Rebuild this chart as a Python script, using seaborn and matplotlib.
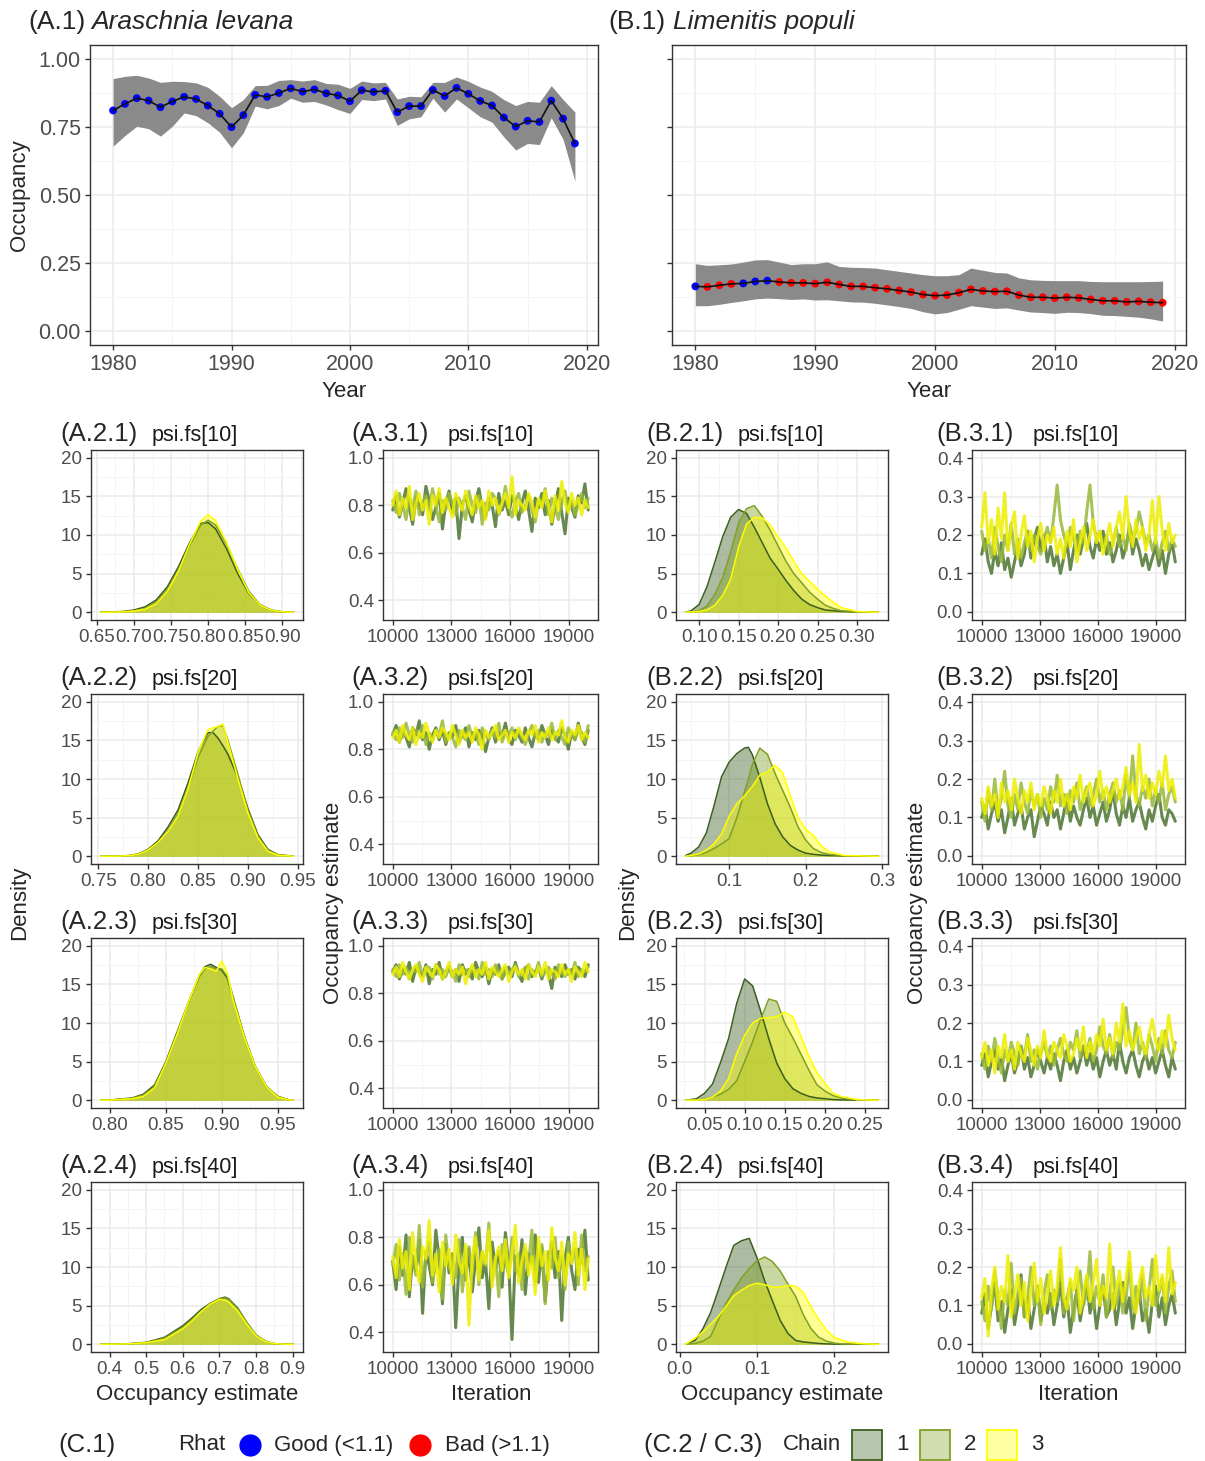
import numpy as np
import pandas as pd
import matplotlib
matplotlib.use("Agg")
import matplotlib.pyplot as plt
from matplotlib.lines import Line2D
from matplotlib.patches import Rectangle
from matplotlib.ticker import AutoMinorLocator, FixedLocator, FixedFormatter
import seaborn as sns

sns.set_theme(style="white")
plt.rcParams['font.family'] = ['Liberation Sans', 'DejaVu Sans']

# ---------------------------------------------------------------- data
years = list(range(1980, 2020))

occ_A_mean = [0.810, 0.834, 0.855, 0.846, 0.822, 0.843, 0.860, 0.852, 0.828, 0.798,
              0.749, 0.793, 0.867, 0.860, 0.874, 0.891, 0.879, 0.887, 0.873, 0.865,
              0.844, 0.884, 0.878, 0.882, 0.804, 0.826, 0.826, 0.885, 0.863, 0.893,
              0.871, 0.845, 0.828, 0.784, 0.751, 0.772, 0.768, 0.846, 0.780, 0.689]
occ_A_upper = [0.927, 0.935, 0.939, 0.929, 0.913, 0.917, 0.916, 0.911, 0.895, 0.862,
               0.820, 0.850, 0.901, 0.902, 0.920, 0.923, 0.918, 0.923, 0.909, 0.906,
               0.891, 0.918, 0.911, 0.913, 0.852, 0.862, 0.860, 0.913, 0.913, 0.933,
               0.917, 0.896, 0.880, 0.850, 0.828, 0.843, 0.840, 0.901, 0.850, 0.804]
occ_A_lower = [0.679, 0.718, 0.752, 0.743, 0.716, 0.752, 0.801, 0.791, 0.765, 0.730,
               0.673, 0.728, 0.826, 0.816, 0.828, 0.855, 0.840, 0.843, 0.830, 0.813,
               0.799, 0.850, 0.846, 0.852, 0.755, 0.779, 0.787, 0.855, 0.804, 0.852,
               0.820, 0.787, 0.767, 0.713, 0.665, 0.689, 0.685, 0.783, 0.704, 0.551]
rhat_A = ["Good"] * 40

occ_B_mean = [0.165, 0.163, 0.169, 0.174, 0.176, 0.183, 0.186, 0.181, 0.178, 0.178,
              0.175, 0.180, 0.172, 0.165, 0.165, 0.160, 0.156, 0.150, 0.144, 0.135,
              0.131, 0.133, 0.142, 0.154, 0.148, 0.146, 0.147, 0.133, 0.125, 0.125,
              0.122, 0.125, 0.123, 0.117, 0.112, 0.112, 0.108, 0.110, 0.107, 0.105]
occ_B_upper = [0.248, 0.242, 0.244, 0.247, 0.254, 0.262, 0.263, 0.254, 0.245, 0.248,
               0.248, 0.255, 0.238, 0.235, 0.234, 0.232, 0.226, 0.220, 0.214, 0.208,
               0.204, 0.204, 0.208, 0.232, 0.224, 0.216, 0.214, 0.196, 0.189, 0.187,
               0.186, 0.186, 0.186, 0.183, 0.182, 0.182, 0.182, 0.182, 0.183, 0.184]
occ_B_lower = [0.094, 0.094, 0.099, 0.106, 0.112, 0.119, 0.122, 0.120, 0.117, 0.119,
               0.115, 0.116, 0.112, 0.108, 0.107, 0.103, 0.097, 0.091, 0.084, 0.072,
               0.064, 0.069, 0.081, 0.094, 0.089, 0.084, 0.086, 0.078, 0.071, 0.069,
               0.066, 0.070, 0.069, 0.065, 0.059, 0.058, 0.055, 0.052, 0.046, 0.038]
rhat_B = ["Good", "Bad", "Bad", "Bad", "Good", "Good", "Good"] + ["Bad"] * 33

chains = ["1", "2", "3"]
parameters = ["psi.fs[10]", "psi.fs[20]", "psi.fs[30]", "psi.fs[40]"]

# posterior densities per chain (x grid, then density of chains 1, 2, 3)
dens_A1_x = [0.655, 0.67, 0.685, 0.70, 0.715, 0.73, 0.745, 0.76, 0.775, 0.79, 0.80,
             0.81, 0.825, 0.84, 0.855, 0.87, 0.885, 0.90, 0.915]
dens_A1_c1 = [0, 0.05, 0.1, 0.3, 0.7, 1.6, 3.3, 5.9, 9.0, 11.5, 11.6, 10.8, 8.2, 5.0, 2.4, 0.9, 0.25, 0.05, 0]
dens_A1_c2 = [0, 0.03, 0.08, 0.2, 0.5, 1.3, 2.9, 5.4, 8.6, 11.3, 11.9, 11.3, 8.8, 5.6, 2.7, 1.0, 0.3, 0.07, 0]
dens_A1_c3 = [0, 0.02, 0.05, 0.15, 0.4, 1.1, 2.7, 5.3, 8.8, 11.8, 12.6, 11.9, 9.0, 5.5, 2.5, 0.9, 0.25, 0.05, 0]

dens_A2_x = [0.7525, 0.77, 0.78, 0.79, 0.80, 0.81, 0.82, 0.83, 0.84, 0.85, 0.86, 0.865,
             0.87, 0.875, 0.88, 0.89, 0.90, 0.91, 0.92, 0.93, 0.9455]
dens_A2_c1 = [0, 0.03, 0.08, 0.3, 0.9, 2.0, 3.8, 6.0, 9.5, 13.5, 16.0, 16.0, 15.3, 14.3, 13.2, 10.2, 6.2, 2.8, 0.9, 0.2, 0]
dens_A2_c2 = [0, 0.03, 0.08, 0.25, 0.8, 1.8, 3.3, 5.5, 8.8, 12.8, 15.5, 16.2, 16.8, 16.9, 15.0, 10.6, 6.0, 2.6, 0.8, 0.2, 0]
dens_A2_c3 = [0, 0.02, 0.07, 0.25, 0.8, 1.8, 3.2, 5.2, 8.7, 13.4, 16.4, 16.6, 16.8, 17.1, 14.7, 10.0, 5.6, 2.4, 0.65, 0.13, 0]

dens_A3_x = [0.7917, 0.80, 0.82, 0.83, 0.84, 0.85, 0.86, 0.87, 0.88, 0.885, 0.89, 0.895,
             0.90, 0.905, 0.91, 0.92, 0.93, 0.94, 0.95, 0.96, 0.964]
dens_A3_c1 = [0, 0.03, 0.3, 0.8, 2.0, 5.0, 8.8, 12.6, 16.2, 17.3, 17.6, 17.2, 16.8, 15.8, 13.3, 8.3, 4.3, 1.7, 0.5, 0.05, 0]
dens_A3_c2 = [0, 0.03, 0.25, 0.7, 1.8, 4.8, 8.6, 12.6, 16.0, 17.0, 17.3, 17.0, 17.0, 16.0, 13.5, 8.4, 4.4, 1.8, 0.5, 0.05, 0]
dens_A3_c3 = [0, 0.02, 0.2, 0.5, 1.6, 4.8, 8.5, 12.6, 16.3, 17.2, 17.0, 16.7, 18.0, 16.5, 13.0, 8.2, 4.3, 1.7, 0.4, 0.05, 0]

dens_A4_x = [0.3756, 0.40, 0.45, 0.50, 0.55, 0.60, 0.625, 0.65, 0.675, 0.70, 0.715, 0.725,
             0.75, 0.775, 0.80, 0.825, 0.85, 0.875, 0.902]
dens_A4_c1 = [0, 0.02, 0.07, 0.25, 0.9, 2.4, 3.4, 4.5, 5.3, 5.9, 6.1, 5.9, 4.7, 2.8, 1.2, 0.4, 0.08, 0.02, 0]
dens_A4_c2 = [0, 0.02, 0.05, 0.22, 0.8, 2.2, 3.2, 4.3, 5.2, 5.9, 6.0, 5.8, 4.6, 2.8, 1.2, 0.4, 0.08, 0.02, 0]
dens_A4_c3 = [0, 0.01, 0.05, 0.2, 0.6, 2.0, 3.0, 4.2, 5.2, 5.8, 5.7, 5.5, 4.3, 2.6, 1.1, 0.35, 0.08, 0.02, 0]

dens_B1_x = [0.083, 0.09, 0.10, 0.11, 0.12, 0.13, 0.14, 0.15, 0.16, 0.17, 0.18, 0.19,
             0.20, 0.21, 0.22, 0.23, 0.24, 0.25, 0.26, 0.27, 0.28, 0.30, 0.327]
dens_B1_c1 = [0, 0.2, 1.0, 3.3, 6.5, 9.8, 12.3, 13.3, 12.8, 11.0, 9.0, 7.0, 5.6, 4.1, 2.8, 1.7, 1.0, 0.6, 0.3, 0.2, 0.1, 0.05, 0]
dens_B1_c2 = [0, 0.05, 0.2, 0.8, 2.3, 4.5, 7.8, 11.5, 13.4, 13.8, 12.4, 10.6, 8.6, 6.6, 5.0, 3.8, 2.6, 1.7, 0.9, 0.5, 0.2, 0.05, 0]
dens_B1_c3 = [0, 0.05, 0.1, 0.3, 0.9, 2.2, 4.3, 8.4, 11.4, 12.3, 12.2, 11.3, 9.8, 8.3, 6.6, 5.0, 4.0, 3.0, 2.1, 1.3, 0.6, 0.1, 0]

dens_B2_x = [0.043, 0.05, 0.06, 0.07, 0.08, 0.09, 0.10, 0.11, 0.12, 0.125, 0.13, 0.14,
             0.15, 0.16, 0.17, 0.18, 0.19, 0.20, 0.21, 0.22, 0.23, 0.25, 0.295]
dens_B2_c1 = [0.1, 0.4, 1.2, 3.0, 6.5, 10.3, 12.2, 13.3, 14.0, 14.1, 13.2, 10.2, 6.8, 4.2, 2.5, 1.4, 0.8, 0.4, 0.25, 0.15, 0.1, 0.05, 0]
dens_B2_c2 = [0, 0.05, 0.2, 0.5, 1.0, 1.6, 2.3, 5.0, 8.3, 10.0, 11.8, 14.0, 13.2, 10.7, 8.5, 6.3, 3.8, 2.1, 1.0, 0.5, 0.25, 0.05, 0]
dens_B2_c3 = [0, 0.1, 0.3, 0.8, 1.6, 2.9, 5.2, 6.8, 7.8, 8.4, 9.0, 10.5, 10.9, 11.8, 10.8, 7.8, 5.0, 3.5, 2.7, 1.4, 0.6, 0.1, 0]

dens_B3_x = [0.0265, 0.04, 0.05, 0.06, 0.07, 0.08, 0.09, 0.10, 0.11, 0.12, 0.13, 0.14,
             0.15, 0.16, 0.17, 0.18, 0.19, 0.20, 0.21, 0.22, 0.24, 0.2665]
dens_B3_c1 = [0, 0.2, 0.9, 2.1, 4.9, 8.0, 12.5, 15.7, 14.8, 11.5, 8.0, 4.8, 2.8, 1.5, 0.9, 0.5, 0.3, 0.2, 0.1, 0.05, 0.02, 0]
dens_B3_c2 = [0, 0.05, 0.15, 0.4, 0.8, 1.4, 2.5, 5.0, 7.6, 10.5, 13.1, 12.8, 10.0, 8.1, 6.0, 3.9, 2.0, 1.2, 0.6, 0.3, 0.05, 0]
dens_B3_c3 = [0, 0.02, 0.1, 0.4, 1.2, 2.8, 6.0, 8.4, 10.0, 10.6, 10.7, 10.8, 11.4, 10.8, 8.3, 5.7, 3.6, 2.2, 0.9, 0.5, 0.08, 0]

dens_B4_x = [0.0077, 0.02, 0.03, 0.04, 0.05, 0.06, 0.07, 0.08, 0.09, 0.10, 0.11, 0.12,
             0.13, 0.14, 0.15, 0.16, 0.17, 0.18, 0.19, 0.20, 0.21, 0.22, 0.24, 0.257]
dens_B4_c1 = [0, 0.5, 2.0, 4.1, 7.0, 10.0, 12.8, 13.4, 13.7, 11.2, 8.2, 5.6, 3.1, 1.4, 0.5, 0.3, 0.2, 0.1, 0.05, 0.02, 0, 0, 0, 0]
dens_B4_c2 = [0, 0.1, 0.4, 1.0, 3.2, 5.3, 7.0, 8.6, 9.8, 10.8, 11.3, 10.7, 9.5, 7.8, 6.2, 3.8, 2.0, 0.9, 0.4, 0.15, 0.05, 0.02, 0, 0]
dens_B4_c3 = [0, 0.8, 1.6, 2.6, 3.6, 4.9, 6.3, 7.0, 7.6, 7.9, 7.7, 7.4, 7.4, 7.6, 7.5, 6.7, 4.8, 3.2, 1.8, 0.9, 0.5, 0.25, 0.05, 0]

# thinned MCMC traces (iterations 10000-20000), chains 1, 2, 3
trace_A1_c1 = [0.78,0.84,0.75,0.81,0.87,0.79,0.72,0.83,0.80,0.76,0.88,0.82,0.74,0.79,0.85,0.70,0.81,0.86,0.77,0.83,
               0.66,0.80,0.84,0.78,0.73,0.82,0.87,0.79,0.75,0.83,0.80,0.71,0.85,0.78,0.82,0.76,0.84,0.80,0.74,0.81,
               0.86,0.78,0.69,0.83,0.79,0.85,0.76,0.82,0.72,0.80,0.87,0.77,0.68,0.83,0.79,0.75,0.84,0.81,0.89,0.78]
trace_A1_c2 = [0.82,0.77,0.85,0.80,0.74,0.83,0.79,0.86,0.76,0.81,0.84,0.78,0.87,0.80,0.73,0.82,0.78,0.85,0.81,0.76,
               0.83,0.79,0.74,0.86,0.80,0.77,0.84,0.72,0.81,0.78,0.85,0.83,0.76,0.80,0.88,0.79,0.75,0.82,0.85,0.77,
               0.80,0.84,0.78,0.73,0.82,0.80,0.87,0.76,0.83,0.79,0.74,0.81,0.86,0.78,0.82,0.76,0.80,0.85,0.79,0.83]
trace_A1_c3 = [0.80,0.86,0.76,0.83,0.79,0.88,0.74,0.81,0.85,0.78,0.82,0.72,0.84,0.80,0.87,0.77,0.83,0.79,0.75,0.85,
               0.81,0.78,0.86,0.80,0.76,0.84,0.79,0.82,0.74,0.86,0.80,0.83,0.77,0.81,0.85,0.79,0.92,0.76,0.82,0.80,
               0.78,0.85,0.81,0.75,0.83,0.79,0.86,0.80,0.73,0.84,0.78,0.90,0.81,0.77,0.85,0.80,0.83,0.76,0.82,0.79]

trace_A2_c1 = [0.86,0.90,0.83,0.88,0.85,0.81,0.89,0.86,0.92,0.84,0.87,0.80,0.86,0.89,0.84,0.88,0.82,0.87,0.85,0.90,
               0.83,0.86,0.89,0.81,0.87,0.84,0.88,0.86,0.79,0.85,0.89,0.83,0.87,0.85,0.91,0.84,0.82,0.88,0.86,0.83,
               0.89,0.85,0.81,0.87,0.84,0.90,0.86,0.82,0.88,0.85,0.83,0.89,0.86,0.80,0.87,0.84,0.91,0.85,0.82,0.88]
trace_A2_c2 = [0.87,0.84,0.89,0.85,0.91,0.86,0.83,0.88,0.85,0.90,0.82,0.87,0.84,0.88,0.86,0.92,0.83,0.87,0.85,0.81,
               0.88,0.86,0.84,0.90,0.85,0.87,0.82,0.89,0.86,0.84,0.88,0.85,0.91,0.83,0.87,0.86,0.89,0.84,0.88,0.85,
               0.82,0.87,0.90,0.85,0.88,0.83,0.87,0.86,0.91,0.84,0.88,0.85,0.82,0.89,0.86,0.84,0.88,0.87,0.83,0.90]
trace_A2_c3 = [0.85,0.88,0.83,0.90,0.86,0.84,0.89,0.82,0.87,0.85,0.91,0.86,0.83,0.88,0.85,0.89,0.87,0.84,0.90,0.86,
               0.82,0.88,0.85,0.87,0.83,0.89,0.86,0.80,0.88,0.85,0.87,0.90,0.84,0.86,0.88,0.83,0.87,0.85,0.89,0.86,
               0.84,0.88,0.86,0.90,0.83,0.87,0.85,0.89,0.84,0.87,0.86,0.92,0.85,0.83,0.88,0.86,0.90,0.84,0.87,0.85]

trace_A3_c1 = [0.89,0.92,0.86,0.90,0.88,0.93,0.85,0.91,0.89,0.87,0.92,0.84,0.90,0.88,0.93,0.86,0.89,0.91,0.87,0.90,
               0.85,0.92,0.88,0.90,0.86,0.93,0.89,0.87,0.91,0.84,0.90,0.88,0.92,0.86,0.89,0.91,0.87,0.93,0.88,0.85,
               0.90,0.92,0.87,0.89,0.91,0.86,0.90,0.88,0.82,0.91,0.89,0.87,0.92,0.88,0.90,0.86,0.91,0.89,0.87,0.92]
trace_A3_c2 = [0.90,0.87,0.92,0.88,0.91,0.86,0.90,0.89,0.93,0.87,0.89,0.91,0.86,0.92,0.88,0.90,0.87,0.91,0.89,0.85,
               0.92,0.88,0.90,0.87,0.91,0.89,0.86,0.93,0.88,0.90,0.87,0.92,0.89,0.86,0.91,0.88,0.90,0.92,0.87,0.89,
               0.91,0.86,0.90,0.88,0.93,0.87,0.89,0.91,0.88,0.86,0.92,0.89,0.87,0.90,0.88,0.93,0.87,0.90,0.89,0.91]
trace_A3_c3 = [0.88,0.91,0.87,0.93,0.89,0.86,0.90,0.92,0.88,0.85,0.91,0.89,0.87,0.92,0.90,0.86,0.89,0.93,0.87,0.90,
               0.88,0.91,0.84,0.89,0.92,0.87,0.90,0.88,0.93,0.86,0.91,0.89,0.87,0.90,0.92,0.85,0.89,0.91,0.88,0.90,
               0.86,0.92,0.89,0.87,0.91,0.88,0.93,0.86,0.90,0.89,0.87,0.92,0.88,0.90,0.85,0.91,0.89,0.87,0.93,0.89]

trace_A4_c1 = [0.70,0.58,0.76,0.64,0.81,0.55,0.72,0.66,0.79,0.48,0.74,0.68,0.60,0.83,0.71,0.52,0.77,0.65,0.73,0.42,
               0.69,0.80,0.62,0.75,0.57,0.71,0.84,0.63,0.70,0.50,0.78,0.67,0.74,0.59,0.82,0.68,0.37,0.72,0.64,0.79,
               0.56,0.73,0.69,0.81,0.61,0.76,0.53,0.70,0.78,0.63,0.74,0.45,0.71,0.80,0.66,0.58,0.75,0.69,0.83,0.62]
trace_A4_c2 = [0.68,0.77,0.62,0.73,0.56,0.80,0.70,0.64,0.85,0.59,0.72,0.78,0.61,0.69,0.75,0.54,0.81,0.67,0.73,0.63,
               0.79,0.57,0.71,0.76,0.65,0.82,0.60,0.74,0.68,0.86,0.62,0.72,0.55,0.77,0.70,0.64,0.80,0.66,0.73,0.58,
               0.75,0.69,0.83,0.61,0.71,0.77,0.52,0.74,0.67,0.80,0.63,0.72,0.58,0.78,0.69,0.75,0.60,0.81,0.66,0.72]
trace_A4_c3 = [0.72,0.63,0.79,0.67,0.74,0.58,0.82,0.69,0.61,0.76,0.71,0.87,0.64,0.73,0.57,0.78,0.68,0.75,0.60,0.81,
               0.70,0.65,0.77,0.43,0.72,0.80,0.62,0.74,0.69,0.83,0.59,0.71,0.76,0.66,0.79,0.63,0.73,0.85,0.61,0.70,
               0.77,0.64,0.72,0.56,0.80,0.68,0.74,0.62,0.84,0.71,0.66,0.78,0.60,0.73,0.69,0.82,0.64,0.75,0.58,0.71]

trace_B1_c1 = [0.15,0.19,0.13,0.10,0.16,0.12,0.18,0.11,0.14,0.09,0.13,0.17,0.12,0.15,0.21,0.14,0.19,0.22,0.16,0.20,
               0.13,0.17,0.12,0.15,0.10,0.14,0.18,0.11,0.16,0.20,0.15,0.19,0.23,0.17,0.14,0.19,0.16,0.21,0.15,0.18,
               0.13,0.16,0.20,0.14,0.17,0.22,0.15,0.19,0.16,0.12,0.15,0.11,0.14,0.17,0.12,0.16,0.10,0.15,0.18,0.13]
trace_B1_c2 = [0.21,0.16,0.19,0.14,0.22,0.17,0.13,0.20,0.16,0.23,0.15,0.19,0.14,0.18,0.21,0.16,0.20,0.17,0.15,0.19,
               0.22,0.18,0.25,0.33,0.24,0.20,0.17,0.22,0.19,0.16,0.21,0.18,0.26,0.33,0.23,0.19,0.21,0.17,0.20,0.15,
               0.18,0.22,0.17,0.20,0.16,0.23,0.19,0.21,0.26,0.22,0.18,0.20,0.16,0.19,0.14,0.18,0.21,0.16,0.19,0.17]
trace_B1_c3 = [0.22,0.31,0.18,0.24,0.15,0.27,0.19,0.31,0.16,0.22,0.26,0.14,0.20,0.25,0.17,0.21,0.13,0.19,0.23,0.16,
               0.20,0.18,0.22,0.15,0.19,0.14,0.21,0.17,0.24,0.13,0.18,0.22,0.16,0.20,0.24,0.18,0.21,0.15,0.19,0.23,
               0.17,0.22,0.26,0.19,0.30,0.21,0.17,0.24,0.19,0.22,0.16,0.20,0.29,0.18,0.30,0.21,0.16,0.23,0.18,0.20]

trace_B2_c1 = [0.10,0.13,0.07,0.11,0.14,0.09,0.12,0.06,0.10,0.15,0.08,0.11,0.13,0.07,0.10,0.12,0.05,0.09,0.13,0.11,
               0.08,0.14,0.10,0.12,0.07,0.11,0.16,0.09,0.13,0.10,0.08,0.12,0.15,0.10,0.13,0.08,0.11,0.14,0.09,0.12,
               0.17,0.11,0.08,0.13,0.10,0.15,0.09,0.12,0.14,0.10,0.07,0.12,0.09,0.13,0.16,0.10,0.08,0.12,0.11,0.09]
trace_B2_c2 = [0.14,0.09,0.17,0.12,0.20,0.11,0.15,0.22,0.13,0.10,0.16,0.12,0.19,0.14,0.11,0.17,0.13,0.16,0.10,0.15,
               0.12,0.18,0.14,0.21,0.13,0.16,0.11,0.17,0.14,0.19,0.12,0.15,0.18,0.13,0.16,0.20,0.14,0.17,0.12,0.16,
               0.19,0.14,0.17,0.12,0.21,0.15,0.26,0.16,0.13,0.18,0.15,0.20,0.13,0.17,0.14,0.19,0.12,0.16,0.18,0.14]
trace_B2_c3 = [0.15,0.11,0.18,0.13,0.16,0.10,0.19,0.14,0.17,0.12,0.20,0.15,0.11,0.17,0.14,0.19,0.12,0.16,0.13,0.18,
               0.15,0.11,0.17,0.14,0.20,0.13,0.16,0.12,0.18,0.15,0.21,0.14,0.17,0.19,0.13,0.16,0.22,0.15,0.18,0.14,
               0.17,0.20,0.15,0.18,0.23,0.16,0.19,0.14,0.29,0.17,0.21,0.15,0.19,0.16,0.22,0.18,0.26,0.17,0.20,0.15]

trace_B3_c1 = [0.09,0.12,0.06,0.10,0.13,0.08,0.11,0.05,0.09,0.12,0.07,0.10,0.14,0.08,0.11,0.06,0.09,0.13,0.10,0.07,
               0.11,0.08,0.12,0.09,0.05,0.10,0.13,0.08,0.11,0.07,0.10,0.14,0.09,0.12,0.08,0.11,0.06,0.10,0.13,0.09,
               0.12,0.08,0.15,0.10,0.07,0.11,0.13,0.09,0.06,0.10,0.12,0.08,0.11,0.07,0.10,0.13,0.09,0.06,0.11,0.08]
trace_B3_c2 = [0.12,0.08,0.14,0.10,0.16,0.11,0.07,0.13,0.10,0.15,0.12,0.09,0.14,0.11,0.17,0.10,0.13,0.08,0.12,0.15,
               0.11,0.14,0.09,0.13,0.16,0.12,0.10,0.15,0.13,0.18,0.11,0.14,0.12,0.16,0.10,0.13,0.19,0.14,0.12,0.17,
               0.11,0.15,0.13,0.18,0.24,0.16,0.13,0.20,0.12,0.15,0.11,0.17,0.14,0.10,0.16,0.12,0.18,0.13,0.11,0.15]
trace_B3_c3 = [0.11,0.15,0.09,0.13,0.07,0.14,0.11,0.17,0.10,0.13,0.08,0.15,0.12,0.10,0.16,0.13,0.09,0.14,0.11,0.18,
               0.12,0.10,0.15,0.13,0.11,0.17,0.14,0.10,0.12,0.16,0.13,0.19,0.11,0.15,0.12,0.17,0.14,0.21,0.13,0.16,
               0.12,0.20,0.15,0.25,0.14,0.18,0.13,0.16,0.19,0.14,0.12,0.17,0.21,0.15,0.13,0.18,0.14,0.22,0.16,0.13]

trace_B4_c1 = [0.08,0.13,0.04,0.10,0.16,0.06,0.11,0.03,0.09,0.14,0.05,0.10,0.18,0.07,0.12,0.04,0.09,0.15,0.06,0.11,
               0.08,0.13,0.05,0.10,0.16,0.07,0.12,0.03,0.09,0.14,0.06,0.11,0.17,0.08,0.12,0.04,0.10,0.15,0.07,0.09,
               0.13,0.05,0.11,0.16,0.08,0.12,0.04,0.10,0.14,0.06,0.09,0.03,0.11,0.15,0.07,0.12,0.05,0.10,0.13,0.08]
trace_B4_c2 = [0.11,0.06,0.15,0.09,0.19,0.12,0.04,0.14,0.10,0.21,0.08,0.13,0.17,0.07,0.12,0.20,0.10,0.15,0.05,0.13,
               0.18,0.09,0.14,0.11,0.22,0.08,0.12,0.16,0.06,0.14,0.19,0.10,0.13,0.24,0.09,0.15,0.11,0.18,0.07,0.13,
               0.20,0.10,0.16,0.08,0.12,0.21,0.09,0.15,0.11,0.18,0.06,0.14,0.22,0.10,0.13,0.17,0.08,0.15,0.19,0.11]
trace_B4_c3 = [0.12,0.17,0.02,0.14,0.20,0.09,0.15,0.11,0.23,0.07,0.13,0.18,0.10,0.16,0.06,0.14,0.21,0.11,0.17,0.08,
               0.13,0.19,0.10,0.15,0.25,0.12,0.09,0.17,0.14,0.20,0.08,0.13,0.18,0.11,0.16,0.22,0.10,0.15,0.12,0.26,
               0.09,0.14,0.19,0.11,0.17,0.24,0.13,0.08,0.16,0.20,0.12,0.15,0.10,0.23,0.14,0.18,0.11,0.25,0.13,0.16]

# ---------------------------------------------------------------- style
chain_colors = {"1": "#3a5f20", "2": "#80a024", "3": "#ffff00"}
trace_colors = {"1": "#4c7530", "2": "#98b83a", "3": "#eeee00"}
rhat_colors = {"Good": "#0000ff", "Bad": "#ff0000"}
FILL_ALPHA = 0.42

W, H = 1205, 1461
fig = plt.figure(figsize=(W / 100, H / 100), dpi=100)


def add_box(l, t, r, b):
    return fig.add_axes([l / W, 1 - b / H, (r - l) / W, (b - t) / H])


def fx(x):
    return x / W


def fy(y):
    return 1 - y / H


def style_axes(ax, tick_size):
    for s in ax.spines.values():
        s.set_visible(True)
        s.set_color('#333333')
        s.set_linewidth(1.0)
    ax.set_facecolor('white')
    ax.xaxis.set_minor_locator(AutoMinorLocator(2))
    ax.yaxis.set_minor_locator(AutoMinorLocator(2))
    ax.grid(True, which='major', color='#ebebeb', lw=1.1)
    ax.grid(True, which='minor', color='#f4f4f4', lw=0.7)
    ax.set_axisbelow(True)
    ax.tick_params(which='major', length=3.5, width=1.0, color='#333333',
                   labelsize=tick_size, labelcolor='#4d4d4d', pad=3,
                   bottom=True, left=True, top=False, right=False)
    ax.tick_params(which='minor', length=0, bottom=False, left=False)
    ax.set_xlabel('')
    ax.set_ylabel('')


def set_ticks(ax, axis, values, fmt):
    labels = [fmt.format(v) if fmt else '' for v in values]
    if axis == 'x':
        ax.xaxis.set_major_locator(FixedLocator(values))
        ax.xaxis.set_major_formatter(FixedFormatter(labels))
    else:
        ax.yaxis.set_major_locator(FixedLocator(values))
        ax.yaxis.set_major_formatter(FixedFormatter(labels))


# ---------------------------------------------------------------- top: occupancy trends
def trend_panel(ax, mean, lower, upper, rhat):
    df = pd.DataFrame({"year": years, "occ": mean, "lo": lower, "hi": upper, "rhat": rhat})
    ax.fill_between(df["year"], df["lo"], df["hi"], color='#8a8a8a', lw=0, zorder=2)
    sns.scatterplot(data=df, x="year", y="occ", hue="rhat", palette=rhat_colors,
                    s=32, linewidth=0, legend=False, ax=ax, zorder=3)
    sns.lineplot(data=df, x="year", y="occ", color='#111111', lw=1.2, ax=ax, zorder=4)
    style_axes(ax, 15.5)
    ax.set_xlim(1978.05, 2020.95)
    ax.set_ylim(-0.05, 1.05)
    set_ticks(ax, 'x', [1980, 1990, 2000, 2010, 2020], "{:d}")


axA1 = add_box(90, 45, 598, 345)
trend_panel(axA1, occ_A_mean, occ_A_lower, occ_A_upper, rhat_A)
set_ticks(axA1, 'y', [0, 0.25, 0.5, 0.75, 1.0], "{:.2f}")

axB1 = add_box(672, 45, 1186, 345)
trend_panel(axB1, occ_B_mean, occ_B_lower, occ_B_upper, rhat_B)
set_ticks(axB1, 'y', [0, 0.25, 0.5, 0.75, 1.0], None)

fig.text(fx(28), fy(29), "(A.1)", fontsize=19, va='baseline', ha='left')
fig.text(fx(91), fy(29), "Araschnia levana", fontsize=19, style='italic', va='baseline', ha='left')
fig.text(fx(608), fy(29), "(B.1)", fontsize=19, va='baseline', ha='left')
fig.text(fx(673), fy(29), "Limenitis populi", fontsize=19, style='italic', va='baseline', ha='left')
fig.text(fx(344), fy(397), "Year", fontsize=16, ha='center', va='baseline')
fig.text(fx(929), fy(397), "Year", fontsize=16, ha='center', va='baseline')
fig.text(fx(20), fy(195), "Occupancy", fontsize=16, rotation=90, ha='center', va='center')

# ---------------------------------------------------------------- diagnostics grid
col_edges = [(91, 303), (383, 598), (676, 888), (972, 1185)]
row_edges = [(450, 620), (694, 864), (938, 1108), (1182, 1352)]
tag_x = [(60, 152), (351, 448), (646, 738), (936, 1033)]
title_base = [441, 685, 929, 1173]

density_sets = {
    "A": [(dens_A1_x, [dens_A1_c1, dens_A1_c2, dens_A1_c3]),
          (dens_A2_x, [dens_A2_c1, dens_A2_c2, dens_A2_c3]),
          (dens_A3_x, [dens_A3_c1, dens_A3_c2, dens_A3_c3]),
          (dens_A4_x, [dens_A4_c1, dens_A4_c2, dens_A4_c3])],
    "B": [(dens_B1_x, [dens_B1_c1, dens_B1_c2, dens_B1_c3]),
          (dens_B2_x, [dens_B2_c1, dens_B2_c2, dens_B2_c3]),
          (dens_B3_x, [dens_B3_c1, dens_B3_c2, dens_B3_c3]),
          (dens_B4_x, [dens_B4_c1, dens_B4_c2, dens_B4_c3])],
}
density_ticks = {
    "A": [([0.65, 0.70, 0.75, 0.80, 0.85, 0.90], "{:.2f}"),
          ([0.75, 0.80, 0.85, 0.90, 0.95], "{:.2f}"),
          ([0.80, 0.85, 0.90, 0.95], "{:.2f}"),
          ([0.4, 0.5, 0.6, 0.7, 0.8, 0.9], "{:.1f}")],
    "B": [([0.10, 0.15, 0.20, 0.25, 0.30], "{:.2f}"),
          ([0.1, 0.2, 0.3], "{:.1f}"),
          ([0.05, 0.10, 0.15, 0.20, 0.25], "{:.2f}"),
          ([0.0, 0.1, 0.2], "{:.1f}")],
}
trace_sets = {
    "A": [[trace_A1_c1, trace_A1_c2, trace_A1_c3],
          [trace_A2_c1, trace_A2_c2, trace_A2_c3],
          [trace_A3_c1, trace_A3_c2, trace_A3_c3],
          [trace_A4_c1, trace_A4_c2, trace_A4_c3]],
    "B": [[trace_B1_c1, trace_B1_c2, trace_B1_c3],
          [trace_B2_c1, trace_B2_c2, trace_B2_c3],
          [trace_B3_c1, trace_B3_c2, trace_B3_c3],
          [trace_B4_c1, trace_B4_c2, trace_B4_c3]],
}
trace_ylim = {"A": ((0.3175, 1.0325), [0.4, 0.6, 0.8, 1.0]),
              "B": ((-0.021, 0.421), [0.0, 0.1, 0.2, 0.3, 0.4])}


def density_panel(ax, xgrid, curves, ticks, fmt):
    for ch, dens in zip(chains, curves):
        d = pd.DataFrame({"x": xgrid, "density": dens})
        ax.fill_between(d["x"], 0, d["density"], color=chain_colors[ch],
                        alpha=FILL_ALPHA, lw=0, zorder=2)
        sns.lineplot(data=d, x="x", y="density", color=chain_colors[ch],
                     lw=1.1, ax=ax, zorder=3, sort=False)
    style_axes(ax, 13.5)
    span = xgrid[-1] - xgrid[0]
    ax.set_xlim(xgrid[0] - 0.05 * span, xgrid[-1] + 0.05 * span)
    ax.set_ylim(-1, 21)
    set_ticks(ax, 'y', [0, 5, 10, 15, 20], "{:d}")
    set_ticks(ax, 'x', ticks, fmt)


def trace_panel(ax, series, ylim, yticks):
    n = len(series[0])
    iterations = np.linspace(10000, 20000, n)
    df = pd.concat([pd.DataFrame({"iteration": iterations, "value": s, "chain": ch})
                    for ch, s in zip(chains, series)], ignore_index=True)
    sns.lineplot(data=df, x="iteration", y="value", hue="chain", palette=trace_colors,
                 lw=2.2, alpha=0.85, estimator=None, sort=False, legend=False, ax=ax, zorder=3)
    style_axes(ax, 13.5)
    ax.set_xlim(9500, 20500)
    ax.set_ylim(*ylim)
    set_ticks(ax, 'x', [10000, 13000, 16000, 19000], "{:d}")
    set_ticks(ax, 'y', yticks, "{:.1f}")


for species, (dcol, tcol) in {"A": (0, 1), "B": (2, 3)}.items():
    for r in range(4):
        t, b = row_edges[r]
        axd = add_box(col_edges[dcol][0], t, col_edges[dcol][1], b)
        xgrid, curves = density_sets[species][r]
        ticks, fmt = density_ticks[species][r]
        density_panel(axd, xgrid, curves, ticks, fmt)

        axt = add_box(col_edges[tcol][0], t, col_edges[tcol][1], b)
        ylim, yticks = trace_ylim[species]
        trace_panel(axt, trace_sets[species][r], ylim, yticks)

        for col, part in ((dcol, 2), (tcol, 3)):
            fig.text(fx(tag_x[col][0]), fy(title_base[r]), f"({species}.{part}.{r + 1})",
                     fontsize=18.5, va='baseline', ha='left')
            fig.text(fx(tag_x[col][1]), fy(title_base[r]), parameters[r],
                     fontsize=15.5, va='baseline', ha='left', color='#1a1a1a')

# shared axis titles
for x, txt in ((20, "Density"), (333, "Occupancy estimate"),
               (628, "Density"), (918, "Occupancy estimate")):
    fig.text(fx(x), fy(903), txt, fontsize=16, rotation=90, ha='center', va='center')
for x, txt in ((197, "Occupancy estimate"), (491, "Iteration"),
               (782, "Occupancy estimate"), (1078, "Iteration")):
    fig.text(fx(x), fy(1400), txt, fontsize=16, ha='center', va='baseline')

# ---------------------------------------------------------------- legends
ly = 1445
fig.text(fx(58), fy(ly), "(C.1)", fontsize=18.5, va='center', ha='left')
fig.text(fx(178), fy(ly), "Rhat", fontsize=16, va='center', ha='left')
fig.add_artist(Line2D([fx(250)], [fy(ly)], marker='o', markersize=15, color=rhat_colors["Good"],
                      lw=0, transform=fig.transFigure))
fig.text(fx(274), fy(ly), "Good (<1.1)", fontsize=16, va='center', ha='left')
fig.add_artist(Line2D([fx(420)], [fy(ly)], marker='o', markersize=15, color=rhat_colors["Bad"],
                      lw=0, transform=fig.transFigure))
fig.text(fx(445), fy(ly), "Bad (>1.1)", fontsize=16, va='center', ha='left')

fig.text(fx(644), fy(ly), "(C.2 / C.3)", fontsize=18.5, va='center', ha='left')
fig.text(fx(783), fy(ly), "Chain", fontsize=16, va='center', ha='left')
for ch, x0 in zip(chains, (852, 920, 987)):
    fig.add_artist(Rectangle((fx(x0), fy(ly + 15)), 30 / W, 30 / H, transform=fig.transFigure,
                             facecolor=chain_colors[ch], alpha=FILL_ALPHA * 0.85, lw=0))
    fig.add_artist(Rectangle((fx(x0), fy(ly + 15)), 30 / W, 30 / H, transform=fig.transFigure,
                             facecolor='none', edgecolor=chain_colors[ch], lw=1.3))
    fig.text(fx(x0 + 50), fy(ly), ch, fontsize=16, va='center', ha='center')

fig.savefig("out.png", dpi=100, facecolor='white')
